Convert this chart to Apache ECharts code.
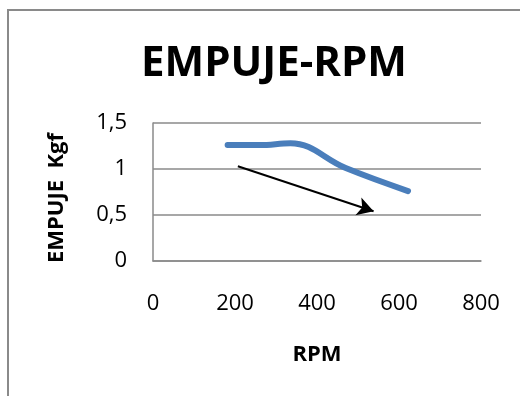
<!DOCTYPE html>
<html>
<head>
<meta charset="utf-8">
<style>
  html, body { margin: 0; padding: 0; background: #fff; }
  #chart { width: 520px; height: 396px; }
</style>
<script src="https://cdn.jsdelivr.net/npm/echarts@6/dist/echarts.min.js"></script>
</head>
<body>
<div id="chart"></div>
<script>
// Thrust (Kgf) measured against propeller speed (RPM)
const rpm    = [182, 260, 335, 470, 622];
const empuje = [1.26, 1.26, 1.28, 1.01, 0.76];

// Trend arrow drawn over the curve, [rpm, Kgf]
const arrowStart = [207, 1.03];
const arrowEnd   = [538, 0.54];

const xTicks = [0, 200, 400, 600, 800];
const yTicks = [0, 0.5, 1, 1.5];

const FONT = '"Open Sans", "Noto Sans", sans-serif';

const chart = echarts.init(document.getElementById('chart'), null, { renderer: 'canvas' });

chart.setOption({
  animation: false,
  backgroundColor: '#ffffff',
  title: {
    text: 'EMPUJE-RPM',
    left: 269,
    top: 38,
    textAlign: 'center',
    textStyle: { fontFamily: FONT, fontWeight: 'bold', fontSize: 42, color: '#000' }
  },
  graphic: [{
    type: 'rect',
    shape: { x: 8, y: 10, width: 600, height: 500 },
    style: { fill: 'none', stroke: '#8a8a8a', lineWidth: 2 },
    silent: true
  }],
  grid: { left: 153, right: 39, top: 123, bottom: 135 },
  xAxis: {
    type: 'value',
    min: xTicks[0],
    max: xTicks[xTicks.length - 1],
    interval: xTicks[1] - xTicks[0],
    name: 'RPM',
    nameLocation: 'middle',
    nameGap: 83,
    nameTextStyle: { fontFamily: FONT, fontWeight: 'bold', fontSize: 22, color: '#000' },
    axisLine: { show: true, lineStyle: { color: '#8a8a8a', width: 1.5 } },
    axisTick: { show: false },
    splitLine: { show: false },
    axisLabel: { fontFamily: FONT, fontSize: 22, color: '#000', margin: 32 }
  },
  yAxis: {
    type: 'value',
    min: yTicks[0],
    max: yTicks[yTicks.length - 1],
    interval: yTicks[1] - yTicks[0],
    name: 'EMPUJE  Kgf',
    nameLocation: 'middle',
    nameGap: 85,
    nameTextStyle: {
      fontFamily: FONT, fontWeight: 'bold', fontSize: 22, color: '#000',
      padding: [0, 12, 0, 0]
    },
    axisLine: { show: true, lineStyle: { color: '#8a8a8a', width: 1.5 } },
    axisTick: { show: false },
    splitLine: { show: true, lineStyle: { color: '#8a8a8a', width: 1.5 } },
    axisLabel: {
      fontFamily: FONT, fontSize: 22, color: '#000', margin: 26,
      formatter: v => String(v).replace('.', ',')
    }
  },
  series: [{
    type: 'line',
    data: rpm.map((r, i) => [r, empuje[i]]),
    smooth: 0.4,
    showSymbol: false,
    lineStyle: { color: '#4A7EBB', width: 6, cap: 'round' },
    markLine: {
      silent: true,
      symbol: ['none', 'arrow'],
      symbolSize: [14, 16],
      label: { show: false },
      lineStyle: { color: '#000', width: 2, type: 'solid' },
      data: [[{ coord: arrowStart }, { coord: arrowEnd }]]
    }
  }]
});
</script>
</body>
</html>
